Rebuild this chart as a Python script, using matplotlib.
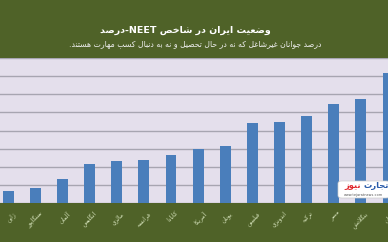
import matplotlib
matplotlib.use("Agg")
import matplotlib.pyplot as plt
import matplotlib.transforms as mtransforms
from matplotlib.patches import FancyBboxPatch

# ---------------- data ----------------
countries = ["ژاپن", "سنگاپور", "آلمان", "انگلیس", "مالزی", "فرانسه", "کانادا",
             "آمریکا", "یونان", "فیلیپین", "اندونزی", "ترکیه", "مصر", "بنگلادش", "ایران"]
neet = [3.5, 4.1, 6.7, 10.9, 11.6, 11.8, 13.4, 15.0, 15.7, 22.1, 22.5, 23.9, 27.4, 28.8, 36.0]
title = "وضعیت ایران در شاخص NEET-درصد"
subtitle = "درصد جوانان غیرشاغل که نه در حال تحصیل و نه به دنبال کسب مهارت هستند."
brand_a = "تجارت"
brand_b = "نیوز"
brand_url = "www.tejaratnews.com"

# ---------------- minimal Persian shaping ----------------
FORMS = {
    'ا': (0xFE8D, 0xFE8E, None, None), 'آ': (0xFE81, 0xFE82, None, None),
    'ب': (0xFE8F, 0xFE90, 0xFE91, 0xFE92), 'پ': (0xFB56, 0xFB57, 0xFB58, 0xFB59),
    'ت': (0xFE95, 0xFE96, 0xFE97, 0xFE98), 'ج': (0xFE9D, 0xFE9E, 0xFE9F, 0xFEA0),
    'ح': (0xFEA1, 0xFEA2, 0xFEA3, 0xFEA4), 'خ': (0xFEA5, 0xFEA6, 0xFEA7, 0xFEA8),
    'د': (0xFEA9, 0xFEAA, None, None), 'ر': (0xFEAD, 0xFEAE, None, None),
    'ز': (0xFEAF, 0xFEB0, None, None), 'ژ': (0xFB8A, 0xFB8B, None, None),
    'س': (0xFEB1, 0xFEB2, 0xFEB3, 0xFEB4), 'ش': (0xFEB5, 0xFEB6, 0xFEB7, 0xFEB8),
    'ص': (0xFEB9, 0xFEBA, 0xFEBB, 0xFEBC), 'ض': (0xFEBD, 0xFEBE, 0xFEBF, 0xFEC0),
    'ع': (0xFEC9, 0xFECA, 0xFECB, 0xFECC), 'غ': (0xFECD, 0xFECE, 0xFECF, 0xFED0),
    'ف': (0xFED1, 0xFED2, 0xFED3, 0xFED4), 'ک': (0xFB8E, 0xFB8F, 0xFB90, 0xFB91),
    'گ': (0xFB92, 0xFB93, 0xFB94, 0xFB95), 'ل': (0xFEDD, 0xFEDE, 0xFEDF, 0xFEE0),
    'م': (0xFEE1, 0xFEE2, 0xFEE3, 0xFEE4), 'ن': (0xFEE5, 0xFEE6, 0xFEE7, 0xFEE8),
    'و': (0xFEED, 0xFEEE, None, None), 'ه': (0xFEE9, 0xFEEA, 0xFEEB, 0xFEEC),
    'ی': (0xFBFC, 0xFBFD, 0xFBFE, 0xFBFF),
}
LAMALEF = {'ا': (0xFEFB, 0xFEFC), 'آ': (0xFEF5, 0xFEF6)}


def shape(text):
    out = []
    prev_join = False
    i = 0
    n = len(text)
    while i < n:
        c = text[i]
        if c not in FORMS:
            out.append(c)
            prev_join = False
            i += 1
            continue
        if c == 'ل' and i + 1 < n and text[i + 1] in LAMALEF:
            iso, fin = LAMALEF[text[i + 1]]
            out.append(chr(fin if prev_join else iso))
            prev_join = False
            i += 2
            continue
        iso, fin, ini, med = FORMS[c]
        dual = ini is not None
        next_join = dual and i + 1 < n and text[i + 1] in FORMS
        if prev_join and next_join:
            f = med
        elif prev_join:
            f = fin
        elif next_join:
            f = ini
        else:
            f = iso
        out.append(chr(f))
        prev_join = dual
        i += 1
    s = "".join(out)[::-1]
    res, run = [], []
    for ch in s:
        if ch.isascii() and ch.isalnum():
            run.append(ch)
        else:
            if run:
                res.append("".join(run[::-1]))
                run = []
            res.append(ch)
    if run:
        res.append("".join(run[::-1]))
    return "".join(res)


plt.rcParams['font.family'] = ['DejaVu Sans']

OLIVE = "#4f6228"
LAV = "#e4dfec"
BLUE = "#4a7ebb"

fig = plt.figure(figsize=(3.88, 2.42), dpi=100, facecolor=OLIVE)
ax = fig.add_axes([0, 1 - 203.3 / 242, 1, (203.3 - 58) / 242])
ax.set_facecolor(LAV)

x = list(range(len(countries)))
ax.bar(x, neet, width=0.40, color=BLUE, zorder=3)

ax.set_ylim(0, 40)
ax.set_yticks(range(0, 41, 5))
ax.yaxis.grid(True, color="#a7a5b1", linewidth=1.0, zorder=1)
ax.set_xlim(-8.3 / 27.3, (388 - 8.3) / 27.3)
ax.set_xticks(x)
ax.set_xticklabels([shape(c) for c in countries], rotation=45, ha='right', va='top',
                   rotation_mode='anchor', fontsize=4.3, color="#d7e4bd")
ax.tick_params(axis='x', length=0, pad=5)
ax.tick_params(axis='y', length=0, labelleft=False)
offset = mtransforms.ScaledTranslation(4 / 100, 0, fig.dpi_scale_trans)
for lab in ax.get_xticklabels():
    lab.set_transform(lab.get_transform() + offset)
for sp in ax.spines.values():
    sp.set_visible(False)

fig.text(185 / 388, 1 - 30 / 242, shape(title), ha='center', va='center',
         fontsize=6.8, color="white", fontweight='bold')
fig.text(195 / 388, 1 - 43.5 / 242, shape(subtitle), ha='center', va='center',
         fontsize=5.6, color="#eeeeee")

# watermark logo
box = FancyBboxPatch((338 / 388, 1 - 198 / 242), 52 / 388, 17 / 242,
                     boxstyle="round,pad=0,rounding_size=0.01",
                     transform=fig.transFigure, facecolor="white", edgecolor="#cccccc",
                     linewidth=0.5, zorder=10)
fig.patches.append(box)
fig.text(363 / 388, 1 - 186 / 242, shape(brand_a), ha='left', va='center',
         fontsize=6.0, color="#2a5caa", fontweight='bold', zorder=11)
fig.text(361 / 388, 1 - 186 / 242, shape(brand_b), ha='right', va='center',
         fontsize=6.0, color="#e0262b", fontweight='bold', zorder=11)
fig.text(363 / 388, 1 - 195 / 242, brand_url, ha='center', va='center',
         fontsize=2.5, color="#555555", zorder=11)

fig.savefig("out.png", dpi=100, facecolor=OLIVE)
